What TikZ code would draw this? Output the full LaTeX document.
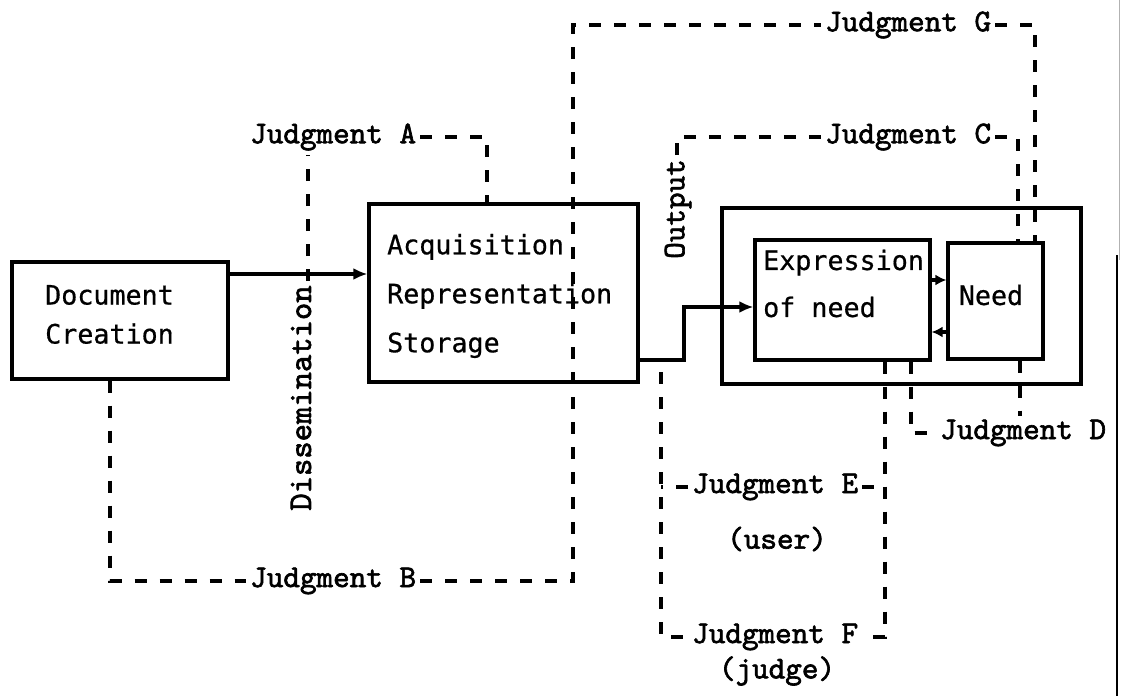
\documentclass[tikz,border=0pt]{standalone}
\usepackage{fontspec}
\usetikzlibrary{arrows.meta}
\newfontfamily\typefont{lmmono10-regular}[Extension=.otf, FakeBold=2]
\newfontfamily\boxfont{DejaVu Sans Mono}[FakeBold=0.6]
\tikzset{
  box/.style={draw, line width=3.2pt, minimum width=#1},
  boxtext/.style={inner sep=0pt, anchor=west, align=left, font=\boxfont\fontsize{26.7}{#1}\selectfont},
  jlab/.style={inner sep=4pt, anchor=west, font=\typefont\fontsize{31.6}{34}\selectfont},
  vlab/.style={inner sep=4pt, rotate=90, font=\typefont\fontsize{#1}{34}\selectfont},
  conn/.style={line width=3.2pt},
  arr/.style={conn, -{Latex[length=14pt,width=12pt]}},
  sarr/.style={conn, -{Latex[length=11pt,width=11pt]}},
  dsh/.style={line width=3.4pt, dash pattern=on 12pt off 13pt},
}
\begin{document}
\begin{tikzpicture}[x=1pt, y=-1pt]
  \fill[white] (0,0) rectangle (1122,696);
  \useasboundingbox (0,0) rectangle (1122,696);

  % page edge at the right
  \draw[gray!60, line width=0.8pt] (1119,0) -- (1119,260);
  \draw[line width=2.5pt] (1117,255) -- (1117,696);

  % boxes
  \node[box=216pt, minimum height=117pt] (doc) at (120,320.5) {};
  \node[box=269pt, minimum height=178pt] (acq) at (503.5,293) {};
  \node[box=359pt, minimum height=176pt] (outer) at (901.5,296) {};
  \node[box=175pt, minimum height=120pt] (expr) at (842.5,300) {};
  \node[box=95pt, minimum height=116pt] (need) at (995.5,301) {};

  % box texts
  \node[boxtext=39pt] (doc-t) at (45,314.5) {Document\\Creation};
  \node[boxtext=49pt] (acq-t) at (387,296) {Acquisition\\Representation\\Storage};
  \node[boxtext=47pt] (expr-t) at (763,283.5) {Expression\\of need};
  \node[boxtext=30pt, anchor=center] (need-t) at (991,295) {Need};

  % judgment labels
  \node[jlab] (ja) at (246,137) {Judgment A};
  \node[jlab] (jb) at (246,581) {Judgment B};
  \node[jlab] (jc) at (821,137) {Judgment C};
  \node[jlab] (jg) at (821,25) {Judgment G};
  \node[jlab] (jd) at (936,433) {Judgment D};
  \node[jlab] (je) at (688,487) {Judgment E};
  \node[jlab] (jf) at (688,637) {Judgment F};
  \node[jlab, anchor=center] (user) at (777,539) {(user)};
  \node[jlab, anchor=center] (judge) at (777,671) {(judge)};

  % rotated labels
  \node[vlab=33] (diss) at (301,398) {Dissemination};
  \node[vlab=31.6] (outp) at (678,209) {Output};

  % solid flow
  \coordinate (bend) at (684,307);
  \draw[arr] (doc.east |- 0,274) -- (acq.west |- 0,274);
  \draw[arr] (acq.east |- 0,360) -| (bend) -- (expr.west |- bend);
  \draw[sarr] (expr.east |- 0,280) -- (need.west |- 0,280);
  \draw[sarr] (need.west |- 0,332) -- (expr.east |- 0,332);

  % judgment A
  \draw[dsh] (diss.east -| 308,0) -- (ja.south -| 308,0);
  \draw[dsh] (ja.east) -| (487,0 |- acq.north);

  % judgments B and G
  \coordinate (gcorner) at (573,25);
  \draw[dsh] (doc.south -| 110,0) |- (jb.west);
  \draw[dsh] (jb.east) -| (gcorner) -- (jg.west);
  \draw[dsh] (jg.east) -| (1035,0 |- need.north);

  % judgment C
  \draw[dsh] (outp.east -| 677,0) |- (jc.west);
  \draw[dsh] (jc.east) -| (1018,0 |- need.north);

  % judgment D
  \draw[dsh] (911,0 |- expr.south) |- (jd.west);
  \draw[dsh] (1020,0 |- need.south) -- (1020,0 |- jd.north);

  % judgments E and F
  \coordinate (eftop) at (661,372);
  \draw[dsh] (eftop) |- (jf.west);
  \draw[dsh] (je.west) -- (je.west -| eftop);
  \draw[dsh] (885,0 |- expr.south) |- (jf.east);
  \draw[dsh] (je.east) -- (je.east -| 885,0);
\end{tikzpicture}
\end{document}
